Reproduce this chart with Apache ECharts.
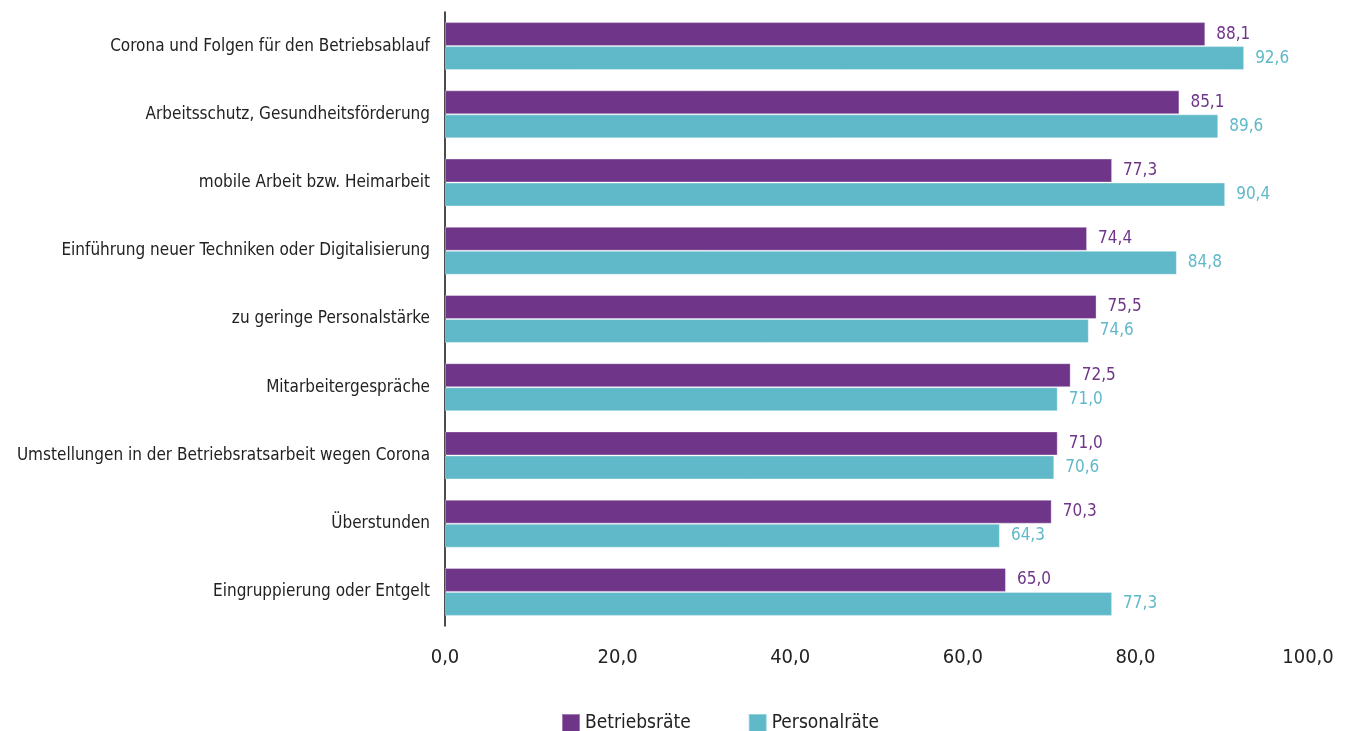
<!DOCTYPE html>
<html><head><meta charset="utf-8">
<script src="https://cdn.jsdelivr.net/npm/echarts@6/dist/echarts.min.js"></script>
<style>html,body{margin:0;padding:0;background:#fff}#c{width:1352px;height:731px}</style>
</head><body><div id="c"></div>
<script>
const categories = [
  "Corona und Folgen für den Betriebsablauf",
  "Arbeitsschutz, Gesundheitsförderung",
  "mobile Arbeit bzw. Heimarbeit",
  "Einführung neuer Techniken oder Digitalisierung",
  "zu geringe Personalstärke",
  "Mitarbeitergespräche",
  "Umstellungen in der Betriebsratsarbeit wegen Corona",
  "Überstunden",
  "Eingruppierung oder Entgelt"
];
const betriebsraete = [88.1, 85.1, 77.3, 74.4, 75.5, 72.5, 71.0, 70.3, 65.0];
const personalraete = [92.6, 89.6, 90.4, 84.8, 74.6, 71.0, 70.6, 64.3, 77.3];
const seriesNames = ["Betriebsräte", "Personalräte"];
const colors = ["#6f3589", "#5fb9c8"];
const FONT = '"DejaVu Sans Condensed","Liberation Sans Narrow","Roboto",sans-serif';
const fmt = v => v.toFixed(1).replace('.', ',');

const chart = echarts.init(document.getElementById('c'));
function mk(name, data, color) {
  return {
    name, type: 'bar', data,
    barWidth: 24, barGap: '0%',
    itemStyle: { color, borderColor: 'rgba(255,255,255,0.35)', borderWidth: 1 },
    label: { show: true, position: 'right', distance: 11, color, fontFamily: FONT, fontSize: 17,
      formatter: p => fmt(p.value) },
    emphasis: { disabled: true }
  };
}
chart.setOption({
  animation: false,
  textStyle: { fontFamily: FONT },
  grid: { left: 445, right: 44, top: 12, bottom: 105, outerBoundsMode: 'none', containLabel: false },
  legend: {
    left: 556, top: 708, itemWidth: 18, itemHeight: 18, itemGap: 57,
    icon: 'path://M0,0H10V10H0Z',
    textStyle: { fontFamily: FONT, fontSize: 19, color: '#222' },
    data: seriesNames
  },
  xAxis: {
    type: 'value', min: 0, max: 100, interval: 20,
    axisLine: { show: false }, axisTick: { show: false }, splitLine: { show: false },
    axisLabel: { formatter: v => fmt(v), fontFamily: FONT, fontSize: 20, color: '#222', margin: 22 }
  },
  yAxis: {
    type: 'category', data: categories, inverse: true,
    axisLine: { show: true, lineStyle: { color: '#111', width: 1.5 } },
    axisTick: { show: false },
    axisLabel: { fontFamily: FONT, fontSize: 17, color: '#222', margin: 15 }
  },
  series: [mk(seriesNames[0], betriebsraete, colors[0]), mk(seriesNames[1], personalraete, colors[1])]
});
</script></body></html>
